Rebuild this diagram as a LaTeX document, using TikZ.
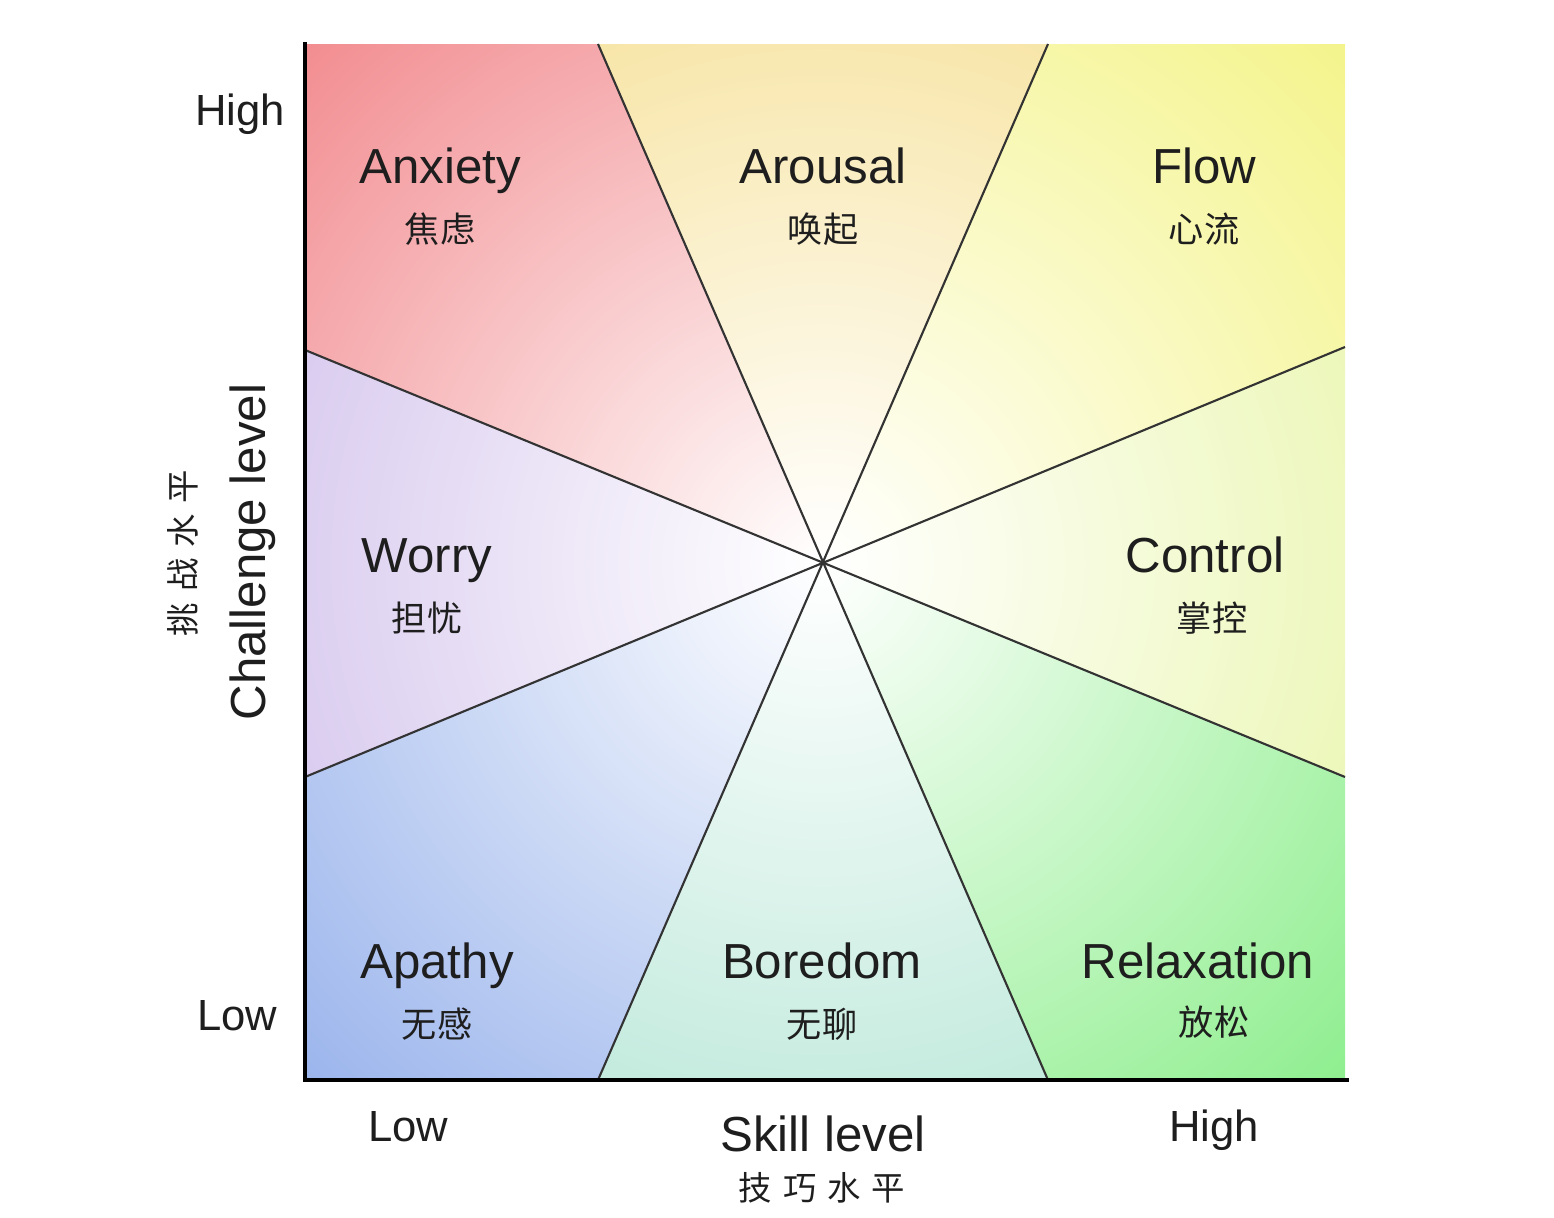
\documentclass[tikz,border=0pt]{standalone}
\usepackage{fontspec}
\setmainfont{Liberation Sans}
\newfontfamily\cjk{Noto Sans CJK SC}
\newfontfamily\cjkwide[WordSpace=1.45]{Noto Sans CJK SC}
\usetikzlibrary{positioning}
\definecolor{inkgray}{HTML}{1E1E1E}
\definecolor{linegray}{HTML}{333333}
\definecolor{anxietyred}{HTML}{F28C90}
\definecolor{arousalwheat}{HTML}{F5DE8E}
\definecolor{flowyellow}{HTML}{F4F48C}
\definecolor{controllime}{HTML}{E7F5A5}
\definecolor{relaxgreen}{HTML}{8EEE8E}
\definecolor{boredomteal}{HTML}{B0E4D3}
\definecolor{apathyblue}{HTML}{9AB4EC}
\definecolor{worrylilac}{HTML}{CEBCEA}
\tikzset{
  moodlabel/.style={
    anchor=base,
    inner sep=0pt,
    text height=10.2pt,
    text depth=3pt,
    text=inkgray,
    font=\fontsize{14}{16}\selectfont
  },
  cnlabel/.style={
    inner sep=0pt,
    text height=8pt,
    text depth=1pt,
    text=inkgray,
    font=\cjk\fontsize{10}{12}\selectfont
  },
  axislabel/.style={
    anchor=base,
    inner sep=0pt,
    text=inkgray,
    font=\fontsize{12.4}{14}\selectfont
  },
  axistitle/.style={
    anchor=base,
    inner sep=0pt,
    text=inkgray,
    font=\fontsize{14}{16}\selectfont
  },
  axiscn/.style={
    inner sep=0pt,
    text=inkgray,
    font=\cjkwide\fontsize{9.5}{11}\selectfont
  },
  divider/.style={
    line width=0.6pt,
    draw=linegray
  },
  axisline/.style={
    line width=1.2pt,
    draw=black
  }
}
% one wedge, white in the middle and coloured at the rim
\newcommand\sectorfill[2]{%
  \begin{scope}
    \clip #2;
    \shade[inner color=white, outer color=#1] (c) circle (740);
  \end{scope}}

\begin{document}
\begin{tikzpicture}[x=0.01cm, y=-0.01cm]
\useasboundingbox (0,0) rectangle (1554,1218);
% centre, corners and rim points
\coordinate (c) at (822,563);
\coordinate (tl) at (305,44);
\coordinate (tr) at (1345,44);
\coordinate (br) at (1345,1080);
\coordinate (bl) at (305,1080);
\coordinate (t1) at (598,44);
\coordinate (t2) at (1048,44);
\coordinate (r1) at (1345,347);
\coordinate (r2) at (1345,777);
\coordinate (b2) at (1048,1080);
\coordinate (b1) at (598,1080);
\coordinate (l2) at (305,777);
\coordinate (l1) at (305,350);
\coordinate (axtop) at (305,42);
\coordinate (axend) at (1349,1080);

% wedges
\sectorfill{anxietyred}{(c) -- (l1) -- (tl) -- (t1) -- cycle}
\sectorfill{arousalwheat}{(c) -- (t1) -- (t2) -- cycle}
\sectorfill{flowyellow}{(c) -- (t2) -- (tr) -- (r1) -- cycle}
\sectorfill{controllime}{(c) -- (r1) -- (r2) -- cycle}
\sectorfill{relaxgreen}{(c) -- (r2) -- (br) -- (b2) -- cycle}
\sectorfill{boredomteal}{(c) -- (b2) -- (b1) -- cycle}
\sectorfill{apathyblue}{(c) -- (b1) -- (bl) -- (l2) -- cycle}
\sectorfill{worrylilac}{(c) -- (l2) -- (l1) -- cycle}

% dividing lines through the centre
\draw[divider] (t1) -- (b2);
\draw[divider] (t2) -- (b1);
\draw[divider] (l1) -- (r2);
\draw[divider] (l2) -- (r1);

% axes
\draw[axisline] (axtop) -- (bl) -- (axend);

% states
\node[moodlabel] (anxiety) at (440,183) {Anxiety};
\node[cnlabel, below=0.19cm of anxiety] (anxietycn) {焦虑};
\node[moodlabel] (arousal) at (823,183) {Arousal};
\node[cnlabel, below=0.19cm of arousal] (arousalcn) {唤起};
\node[moodlabel] (flow) at (1204,183) {Flow};
\node[cnlabel, below=0.19cm of flow] (flowcn) {心流};
\node[moodlabel] (worry) at (427,572) {Worry};
\node[cnlabel, below=0.19cm of worry] (worrycn) {担忧};
\node[moodlabel] (control) at (1205,572) {Control};
\node[cnlabel, below=0.19cm of control, xshift=0.07cm] (controlcn) {掌控};
\node[moodlabel] (apathy) at (437,978) {Apathy};
\node[cnlabel, below=0.19cm of apathy] (apathycn) {无感};
\node[moodlabel] (boredom) at (822,978) {Boredom};
\node[cnlabel, below=0.19cm of boredom] (boredomcn) {无聊};
\node[moodlabel] (relax) at (1198,978) {Relaxation};
\node[cnlabel, below=0.17cm of relax, xshift=0.16cm] (relaxcn) {放松};

% axis labels
\node[axislabel] (yhigh) at (240,125) {High};
\node[axislabel] (ylow) at (237,1030) {Low};
\node[axislabel] (xlow) at (408,1141) {Low};
\node[axislabel] (xhigh) at (1214,1141) {High};
\node[axistitle] (skill) at (823,1151) {Skill level};
\node[axiscn] (skillcn) at (822,1188) {技 巧 水 平};
\node[axistitle, rotate=90] (challenge) at (265,552) {Challenge level};
\node[axiscn, rotate=90] (challengecn) at (183,553) {挑 战 水 平};
\end{tikzpicture}
\end{document}
